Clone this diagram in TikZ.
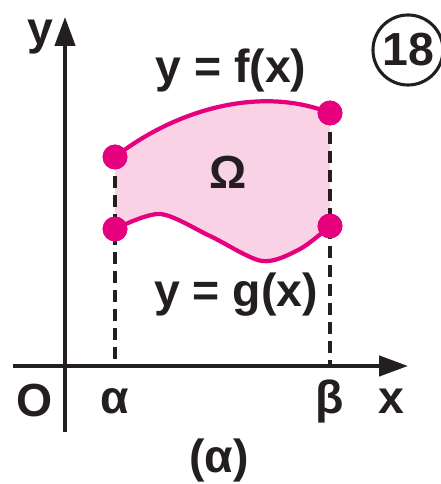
\documentclass[tikz,border=0pt]{standalone}
\usepackage{fontspec}
\setmainfont{Liberation Sans}
\usetikzlibrary{arrows.meta}

\definecolor{curvemag}{HTML}{E6007E}
\definecolor{regionpink}{HTML}{F9D3E5}
\definecolor{inkblack}{HTML}{231F20}

\tikzset{
  axisline/.style={inkblack, line width=2.8pt, -{Triangle[length=0.72cm,width=0.5cm]}},
  curveline/.style={curvemag, line width=3pt},
  dashline/.style={inkblack, line width=3pt, dash pattern=on 8.5pt off 5pt},
  dot/.style={circle, fill=curvemag, inner sep=0pt, minimum size=0.62cm},
  lbl/.style={inkblack, font=\fontsize{33}{36}\selectfont\bfseries, inner sep=0pt},
}

\begin{document}
\begin{tikzpicture}[x=0.025cm,y=-0.025cm]
  \useasboundingbox (0,0) rectangle (440,484);

  % shaded region between the two curves
  \fill[regionpink] (115,157) .. controls (175,110) and (260,85) .. (330,113)
    -- (330,226) -- plot[smooth] coordinates {(330,226) (300,249) (262,261) (210,236) (160,214) (115,229)} -- cycle;

  % axes
  \coordinate (xstart) at (13,366);
  \coordinate (xend) at (408,366);
  \coordinate (ystart) at (65,432);
  \coordinate (yend) at (65,17);
  \draw[axisline] (xstart) -- (xend);
  \draw[axisline] (ystart) -- (yend);

  % end points on the curves
  \node[dot] (fa) at (115,157) {};
  \node[dot] (fb) at (330,113) {};
  \node[dot] (ga) at (115,229) {};
  \node[dot] (gb) at (330,226) {};
  \coordinate (afoot) at (115,366);
  \coordinate (bfoot) at (330,366);

  \draw[dashline] (fa.center) -- (afoot);
  \draw[dashline] (fb.center) -- (bfoot);

  % the curves
  \draw[curveline] (fa.center) .. controls (175,110) and (260,85) .. (fb.center);
  \draw[curveline] plot[smooth] coordinates {(115,229) (160,214) (210,236) (262,261) (300,249) (330,226)};
  \node[dot] at (fa) {};
  \node[dot] at (fb) {};
  \node[dot] at (ga) {};
  \node[dot] at (gb) {};

  % labels
  \node[lbl] (ylab) at (40,37) {y};
  \node[lbl, anchor=base] (flab) at (231,83) {y = f(x)};
  \node[lbl, anchor=base] (glab) at (236,306) {y = g(x)};
  \node[lbl] (omega) at (228,172) {Ω};
  \node[lbl] (olab) at (35,401) {O};
  \node[lbl] (alab) at (115,401) {α};
  \node[lbl] (blab) at (330,401) {β};
  \node[lbl] (xlab) at (391,401) {x};
  \node[lbl] (caption) at (219,460) {(α)};
  \node[lbl, draw, circle, line width=2.2pt, minimum size=1.75cm] (num) at (408,50) {18};
\end{tikzpicture}
\end{document}
